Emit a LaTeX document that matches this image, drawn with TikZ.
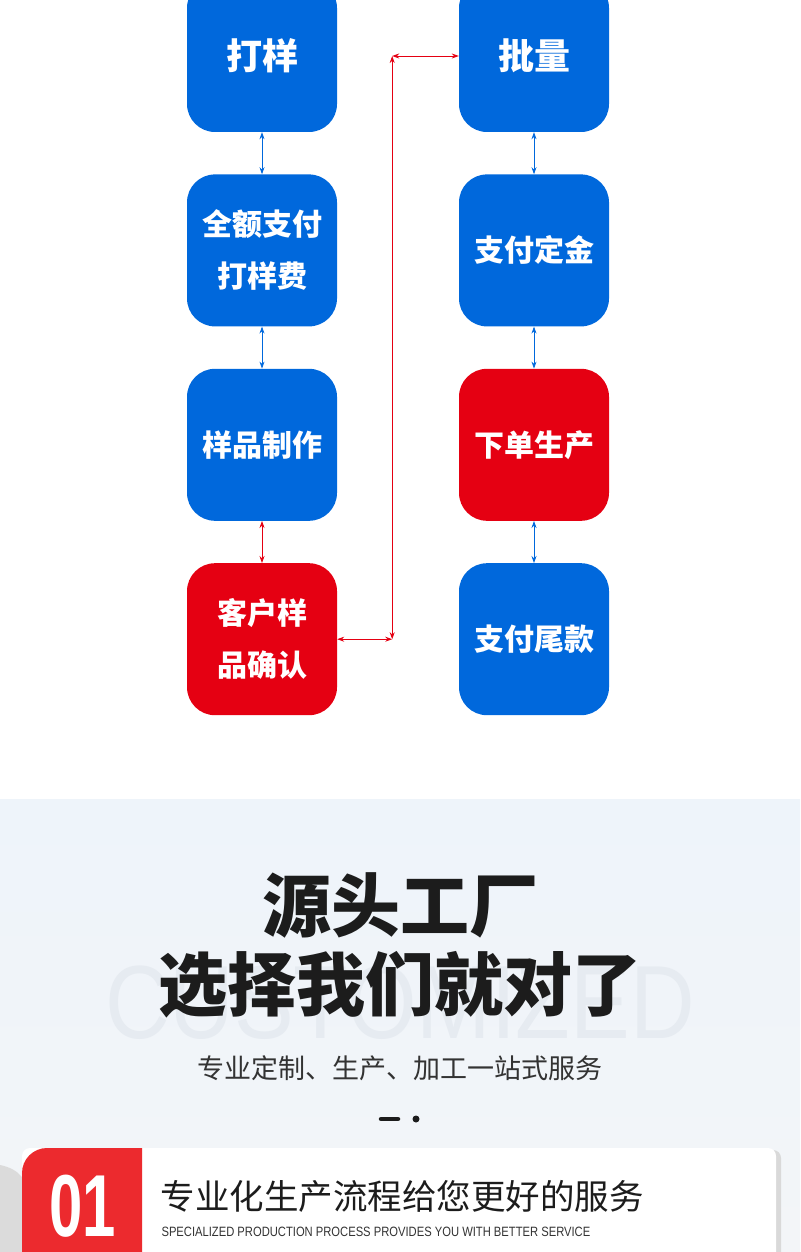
\documentclass[tikz,border=0pt]{standalone}
\usepackage{fontspec}
\setmainfont{Noto Sans CJK SC}
\newfontfamily\latinsans{Liberation Sans}
\usetikzlibrary{arrows.meta, positioning, calc}

\definecolor{stepblue}{HTML}{0068DC}
\definecolor{stepred}{HTML}{E50012}
\definecolor{cardred}{HTML}{EC2A2E}
\definecolor{inkdark}{HTML}{1C1C1C}
\definecolor{inkgray}{HTML}{333333}
\definecolor{markgray}{HTML}{E6EBF1}

\tikzset{
  stepbox/.style={rectangle, rounded corners=28pt, minimum width=150pt, minimum height=152pt,
    inner sep=0pt, text=white, align=center, font=\fontsize{30}{52}\selectfont\bfseries},
  bluestep/.style={stepbox, fill=stepblue},
  redstep/.style={stepbox, fill=stepred},
  link/.style={<->, line width=0.8pt, >={Stealth[length=7pt,width=5pt]}}
}

\begin{document}
\begin{tikzpicture}[x=1pt, y=-1pt, node distance=42pt]
\useasboundingbox (0,0) rectangle (800,1252);
\clip (0,0) rectangle (800,1252);

% Sample steps
\node[bluestep, font=\fontsize{36}{40}\selectfont\bfseries] (sample) at (262,56) {打样};
\node[bluestep, below=of sample] (fullpay) {全额支付\\打样费};
\node[bluestep, below=of fullpay] (making) {样品制作};
\node[redstep, below=of making] (confirm) {客户样\\品确认};

% Batch steps
\node[bluestep, font=\fontsize{36}{40}\selectfont\bfseries] (batch) at (534,56) {批量};
\node[bluestep, below=of batch] (deposit) {支付定金};
\node[redstep, below=of deposit] (order) {下单生产};
\node[bluestep, below=of order] (balance) {支付尾款};

% Arrows between steps
\draw[link, stepblue] (sample) -- (fullpay);
\draw[link, stepblue] (fullpay) -- (making);
\draw[link, stepred] (making) -- (confirm);
\draw[link, stepblue] (batch) -- (deposit);
\draw[link, stepblue] (deposit) -- (order);
\draw[link, stepblue] (order) -- (balance);

% Route from confirmation to batch
\coordinate (turnlow) at ([xshift=55pt]confirm.east);
\coordinate (turnhigh) at (turnlow |- batch.west);
\draw[link, stepred] (confirm.east) -- (turnlow);
\draw[link, stepred] (turnlow) -- (turnhigh);
\draw[link, stepred] (turnhigh) -- (batch.west);

% Lower banner
\shade[top color={rgb,255:red,238;green,244;blue,250}, bottom color={rgb,255:red,243;green,245;blue,248}] (0,799) rectangle (800,1252);
\fill[gray!28] (0,1165) .. controls (10,1167) and (17,1171) .. (22,1177) -- (22,1252) -- (0,1252) -- cycle;

\node[text=markgray, font=\latinsans\fontsize{104}{104}\selectfont] (mark) at (400,1003)
  {\scalebox{0.86}[1]{CUSTOMIZED}};

\node[text=inkdark, font=\fontsize{69}{80}\selectfont\bfseries] (headtop) at (400,905) {源头工厂};
\node[text=inkdark, font=\fontsize{69}{80}\selectfont\bfseries] (headlow) at (400,985) {选择我们就对了};
\node[text=inkgray, font=\fontsize{27}{30}\selectfont] (slogan) at (400,1068) {专业定制、生产、加工一站式服务};

\draw[inkdark, line width=4.5pt, line cap=round] (381,1119) -- (398,1119);
\fill[inkdark] (416,1119) circle (3.5pt);

% Card
\fill[gray!30, rounded corners=8pt] (25,1150) rectangle (781,1270);
\fill[white, rounded corners=8pt] (22,1148) rectangle (776,1270);
\fill[cardred] (22,1270) [rounded corners=25pt] -- (22,1148) [sharp corners] -- (142,1148) -- (142,1270) -- cycle;
\node[text=white, font=\latinsans\bfseries\fontsize{88}{88}\selectfont] (num) at (83,1206) {\scalebox{0.68}[1]{01}};
\node[anchor=west, text=inkdark, font=\fontsize{34.5}{38}\selectfont] (cardtitle) at (157,1196) {专业化生产流程给您更好的服务};
\node[anchor=west, text=inkgray, font=\latinsans\fontsize{13.5}{15}\selectfont] (cardsub) at (158,1232)
  {\scalebox{0.83}[1]{SPECIALIZED PRODUCTION PROCESS PROVIDES YOU WITH BETTER SERVICE}};
\end{tikzpicture}
\end{document}
